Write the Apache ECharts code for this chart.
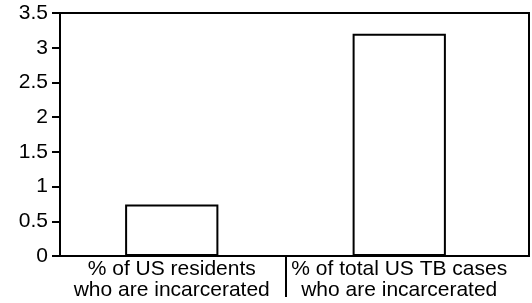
<!DOCTYPE html>
<html>
<head>
<meta charset="utf-8">
<script src="https://cdn.jsdelivr.net/npm/echarts@6/dist/echarts.min.js"></script>
<style>
  html, body { margin: 0; padding: 0; background: #fff; }
  #chart { width: 532px; height: 303px; }
</style>
</head>
<body>
<div id="chart"></div>
<script>
  const categories = ['% of US residents\nwho are incarcerated', '% of total US TB cases\nwho are incarcerated'];
  const values = [0.74, 3.2];
  const yMin = 0, yMax = 3.5, yStep = 0.5;

  const font = 'Liberation Sans, Arial, sans-serif';

  // padded with empty slots so the outer category edges fall off canvas
  const paddedCats = [''].concat(categories, ['']);
  const paddedVals = ['-'].concat(values, ['-']);

  const chart = echarts.init(document.getElementById('chart'));
  chart.setOption({
    animation: false,
    grid: [
      { left: 60, right: 3, top: 13, bottom: 47, show: true, borderColor: '#000', borderWidth: 2, backgroundColor: 'transparent', outerBoundsMode: 'none' },
      { left: -169.5, right: -208.5, top: 13, bottom: 47, outerBoundsMode: 'none' }
    ],
    xAxis: [
      { gridIndex: 0, type: 'category', data: categories, show: false },
      {
        gridIndex: 1, type: 'category', data: paddedCats,
        axisLine: { show: false },
        axisTick: { show: true, length: 41, interval: (i) => i === 0 || i === 2, lineStyle: { color: '#000', width: 2 } },
        axisLabel: { interval: 0, color: '#000', fontSize: 21, lineHeight: 21, fontFamily: font, margin: 3 }
      }
    ],
    yAxis: [
      {
        gridIndex: 0, type: 'value', min: yMin, max: yMax, interval: yStep,
        axisLine: { show: true, lineStyle: { color: '#000', width: 2 } },
        axisTick: { show: true, length: 8, lineStyle: { color: '#000', width: 2 } },
        axisLabel: { color: '#000', fontSize: 21, fontFamily: font, margin: 12 },
        splitLine: { show: false }
      },
      { gridIndex: 1, type: 'value', min: yMin, max: yMax, show: false }
    ],
    series: [{
      type: 'bar', xAxisIndex: 1, yAxisIndex: 1,
      data: paddedVals, barWidth: '41%',
      itemStyle: { color: '#fff', borderColor: '#000', borderWidth: 2 }
    }]
  });
</script>
</body>
</html>
